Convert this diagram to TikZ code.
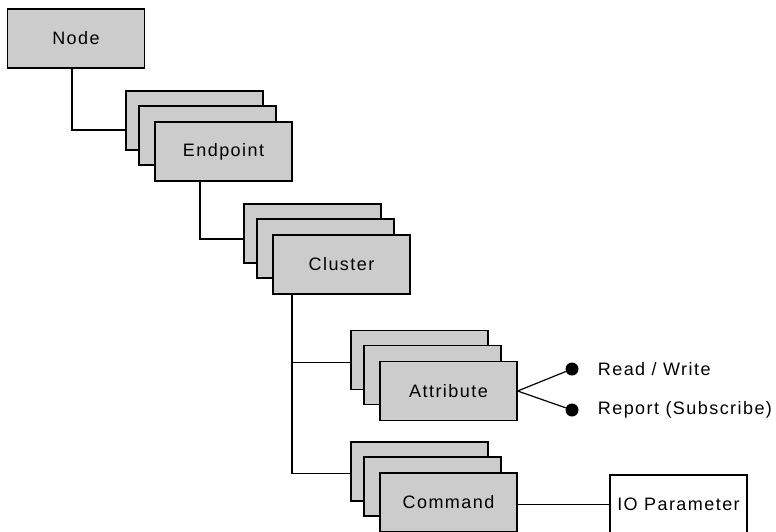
\documentclass[tikz,border=0pt]{standalone}
\usepackage{fontspec}
\setmainfont[LetterSpace=8]{Liberation Sans}
\usetikzlibrary{positioning}

\begin{document}
\begin{tikzpicture}[x=1pt, y=-1pt,
        card/.style={draw, fill=gray!40, line width=1.2pt, minimum width=137pt,
            minimum height=59pt, inner sep=0pt, font=\fontsize{18}{20}\selectfont},
        plain/.style={card, fill=white},
        link/.style={line width=1.2pt},
        dot/.style={circle, fill=black, inner sep=0pt, minimum size=13pt},
        tag/.style={inner sep=0pt, anchor=west, font=\fontsize{18}{20}\selectfont}]
        \clip (0,0) rectangle (776,531);

        \node[card] (node) at (76,38.5) {Node};

        % stacks of three cards, the named one in front
        \foreach \name/\x/\y/\txt in {endpoint/223.5/151.5/Endpoint,
                cluster/341.5/264.5/Cluster,
                attribute/448.5/391/Attribute,
                command/448.5/502.5/Command} {
            \node[card] (\name-b) at (\x-29,\y-31) {};
            \node[card] (\name-m) at (\x-16,\y-16) {};
            \node[card] (\name) at (\x,\y) {\txt};
        }

        \node[plain] (io) at (678.5,504.5) {IO Parameter};

        \draw[link] ([xshift=-4pt]node.south) |- ([yshift=-9.5pt]endpoint-b.west);
        \draw[link] ([xshift=-23.5pt]endpoint.south) |- ([yshift=-5.5pt]cluster-b.west);

        \coordinate (trunk) at ([xshift=-49.5pt]cluster.south);
        \draw[link] (trunk) |- ([yshift=-2.5pt]attribute-b.west);
        \draw[link] (trunk) |- ([yshift=-2pt]command-b.west);

        % attribute access
        \node[dot] (rw) at (572,369) {};
        \node[dot] (rep) at (572,410) {};
        \draw[link] (attribute.east) -- (rw);
        \draw[link] (attribute.east) -- (rep);
        \node[tag, right=19pt of rw] (rw-text) {Read / Write};
        \node[tag, right=19pt of rep] (rep-text) {Report (Subscribe)};

        \draw[link] (command.east |- io.west) -- (io.west);
    \end{tikzpicture}
\end{document}
